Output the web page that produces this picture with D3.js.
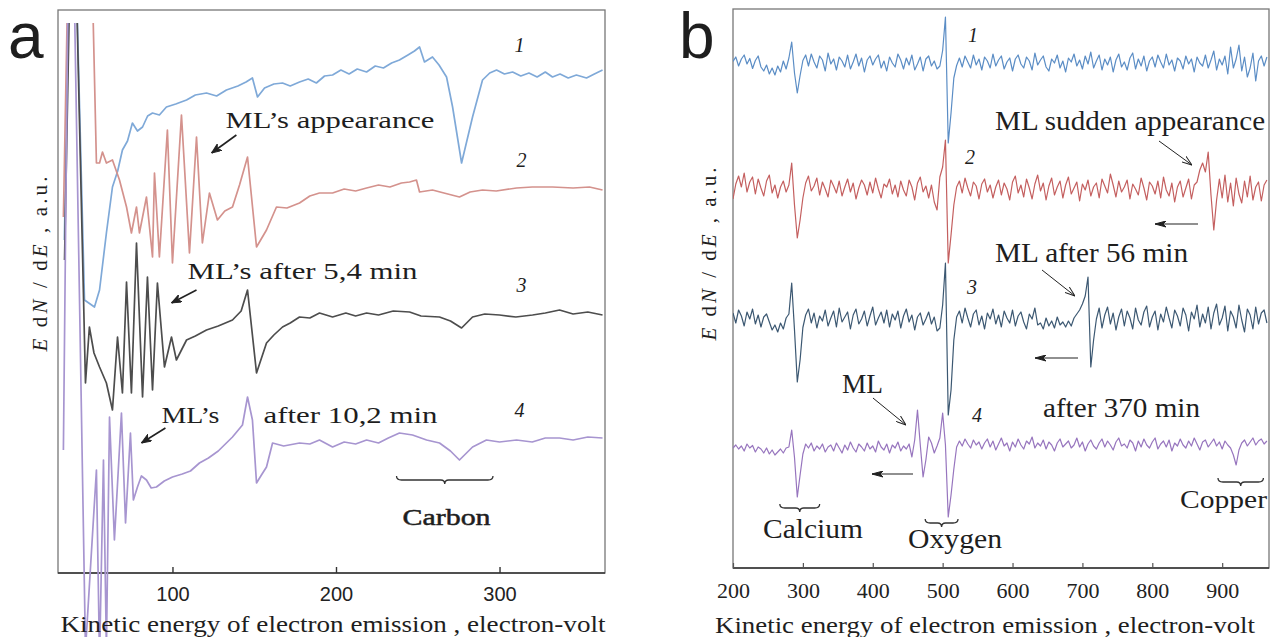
<!DOCTYPE html>
<html lang="en">
<head>
<meta charset="UTF-8" />
<title>Auger spectra with ML</title>
<script src="https://d3js.org/d3.v7.min.js"></script>
<style>
  body { margin: 0; background: #fff; }
</style>
</head>
<body>
<svg width="1272" height="637"></svg>
<script>
// ---------- panel a : [energy eV, E dN/dE a.u.] ----------
const specA1 = [[33.9,66.6],[37,125],[40.7,125],[46.2,54.6],[52.3,53.2],[55.4,56.6],[59.6,68],[63.3,77.2],[66.5,80.4],[69.4,84.6],
  [72.5,86.4],[75.5,90],[78.6,88.4],[81.7,89.2],[84.8,91.4],[87.8,92],[92,91.6],[96.3,93.2],[102,93.8],[108.6,94.6],
  [114,95.6],[120.8,96],[127,95.4],[133,96.6],[140,97.4],[145,98.2],[148.9,99],[152,95.2],[156.3,97],[162,97.8],
  [167.3,98],[172,97.4],[177.7,98.2],[183,98.8],[188,98],[193,99.4],[197.9,99.6],[203,100.6],[208,99.8],[213,100.8],
  [218.7,100.2],[224,101.4],[229,101],[234,102],[238.8,102.6],[244,103.6],[248,104.4],[251.1,105.2],[254.1,102.2],[259,103.2],
  [263,101.6],[267.6,99.2],[271.3,93.2],[276.8,82],[283.5,91.2],[289.6,98.6],[294,100],[298.2,100.6],[303,99.8],[308,100.2],
  [313,99.4],[318,100],[323,99.2],[328,100.2],[332.4,99.2],[337,99.8],[342,99],[347,99.6],[353.2,99],[358,99.8],[363,100.6]];
const specA2 = [[33.3,71.2],[36.4,125],[40.1,125],[50.5,125],[53.5,82],[55.4,82],[57.2,84.2],[59.6,82],[63.3,82.6],[67.6,78.6],
  [71.9,73.2],[74.9,68],[78,73.2],[79.8,68],[84.1,75.2],[87.8,63.2],[89,80],[92,63.2],[96.9,88.6],[100,62],
  [105.5,91.6],[110.4,64],[114.7,87.2],[118.3,66],[122.6,76],[127.5,70.6],[132,72.4],[136.7,73.2],[141,77.6],[145.9,83.2],
  [151.4,65.2],[157.5,68.6],[163.6,73.2],[170,73],[177.7,74],[184,75.4],[189.9,76],[197.9,76],[205,76.8],[212,76.4],
  [218.7,77],[226,77.6],[233,77.2],[240,78],[245,78.2],[249.2,78.6],[251.1,76.2],[259,76.6],[266,76],[275.5,75.2],
  [282,76.2],[289.6,76.6],[298,76.4],[310.4,77],[320,77.2],[332.4,77.2],[345,77],[355,77.2],[363,76.6]];
const specA3 = [[34,62.6],[37.6,125],[40.7,125],[46.8,38],[49.2,49.2],[52,44],[55.4,41.2],[59.6,38],[63.3,32.6],[66.4,47.2],
  [69.4,36],[71.9,58.2],[74.9,36],[78,66],[81.7,35.2],[84.7,59.2],[87.8,36.6],[90.8,58],[95.1,41.2],[99.4,47.2],
  [102.4,42.6],[108.6,46.6],[114,47.4],[120.8,48.6],[128,49.4],[136.7,50.6],[142,52.4],[145.9,56.6],[151.4,40],[157.5,46],
  [162,47.6],[167.3,49.2],[172,50],[177.7,51.2],[184,51],[189.9,52],[197.9,51.2],[206,52],[212,51.4],[218.7,52],
  [226,51.6],[235,52.4],[245,52.2],[252,51.4],[263.3,51.2],[270,50.4],[276.8,49],[283.5,51.2],[291,51.8],[300,51.6],
  [310,51.2],[320.2,51.6],[328,52],[336.7,52.6],[345,51.8],[354,52.2],[363,51.6]];
const specA4 = [[33.3,24.6],[36.4,125],[39.5,125],[46.8,-15.4],[53.5,20.6],[55.4,-17.4],[57.8,22.6],[59.6,-15.4],[61.5,31.2],[64.5,6.6],
  [68.8,32],[71.3,10],[74.3,28],[76.1,14.6],[78.6,17.2],[81,19.4],[84.1,18.6],[87,17],[90.2,17.2],[95,18.4],
  [100,19.2],[106,19.8],[111,20.4],[116.5,22],[122,23],[128,24.4],[136.7,27.2],[142.8,29.6],[145.9,35.2],[148.9,30.6],
  [151.4,18],[154.4,19.6],[157.5,21.2],[161.2,26],[168,25.4],[177.7,26],[184,25.8],[189.9,26.6],[197.9,25.2],[205,26.2],
  [212,25.8],[218.7,26.6],[226,26],[232,27],[238.8,28],[246.8,27.6],[255.4,26.6],[263.3,26],[270,24.4],[275.5,22.6],
  [283.5,25.2],[292,26.6],[300,26.2],[310.4,26.6],[320,26.2],[328,27],[336.7,27],[345,26.6],[354,27.2],[363,27]];
const ticksA = [100, 200, 300];

// ---------- panel b : energies (eV) and signal around each trace's offset ----------
const energyB = [200,204,208,212,216,220,224,228,232,236, 240,244,248,252,256,260,264,268,272,276,
  280,284,288,292,296,300,304,308,312,316, 320,324,328,332,336,340,344,348,352,356,
  360,364,368,372,376,380,384,388,392,396, 400,404,408,412,416,420,424,428,432,436,
  440,444,448,452,456,460,464,468,472,476, 480,484,488,492,496,500,504,508,512,516,
  520,524,528,532,536,540,544,548,552,556, 560,564,568,572,576,580,584,588,592,596,
  600,604,608,612,616,620,624,628,632,636, 640,644,648,652,656,660,664,668,672,676,
  680,684,688,692,696,700,704,708,712,716, 720,724,728,732,736,740,744,748,752,756,
  760,764,768,772,776,780,784,788,792,796, 800,804,808,812,816,820,824,828,832,836,
  840,844,848,852,856,860,864,868,872,876, 880,884,888,892,896,900,904,908,912,916,
  920,924,928,932,936,940,944,948,952,956, 960,964];
const specB1 = [0.3,1.2,-0.6,0.8,1.6,-0.2,0.9,-1.1,0.5,1.4, -0.8,-1.6,-0.4,-2.2,-1.0,-2.4,-0.6,-1.8,0.4,-1.2,
  1.0,4.2,-2.0,-6.0,-2.5,0.5,1.6,-0.6,1.8,0.2, -1.0,1.4,0.6,-1.6,2.0,-0.2,0.8,-1.4,1.2,0.4,
  -0.8,1.6,-1.2,0.2,1.8,-0.6,1.0,-1.8,0.6,1.4, -0.4,0.8,1.6,-1.0,0.4,-1.6,1.2,0.0,-0.8,1.8,
  0.6,-1.2,1.0,-0.4,1.6,-1.4,-0.2,1.2,-1.6,0.8, 1.4,-0.6,0.4,-1.2,-0.6,2.5,9.2,-16.0,-10.0,-3.0,
  -0.5,1.0,-0.8,1.4,0.2,-1.0,1.6,-0.4,0.8,-1.4, 1.2,0.4,-1.0,1.8,-0.6,0.6,1.4,-1.2,0.2,1.0,
  -1.6,0.8,1.6,-0.2,-1.0,1.2,0.4,-1.4,2.0,-0.4, 0.6,1.4,-0.8,-1.6,0.8,0.0,1.6,-1.0,0.4,-1.8,
  1.0,0.2,1.8,-0.6,0.6,-1.2,1.4,-0.2,2.2,-1.0, 0.4,1.6,-1.4,0.8,-0.4,1.2,-1.8,0.6,1.8,-0.8,
  0.2,-1.4,1.0,2.0,-1.2,0.8,-0.6,1.4,-1.6,0.4, 1.2,-0.8,1.6,0.2,-1.0,1.8,-0.4,0.6,-1.6,1.0,
  0.4,-1.2,1.4,-0.2,0.8,-1.8,1.2,0.0,-0.6,1.6, -1.0,0.6,2.4,-1.4,0.8,-0.4,1.4,-2.2,3.2,-1.0,
  0.8,3.6,-1.6,1.2,-2.8,-1.0,2.0,-3.6,0.4,1.4, -0.6,1.2];
const specB2 = [-1.8,1.2,2.8,0.6,3.4,-0.4,1.6,2.6,-0.8,2.2, 0.4,-1.2,1.8,3.0,-0.6,1.0,-1.6,0.6,1.8,-0.4,
  1.0,5.4,-3.0,-9.6,-6.0,-1.6,1.4,2.8,-0.2,0.8, 2.4,-1.0,1.6,0.2,-1.4,2.0,0.8,-0.6,1.8,-1.2,
  0.6,2.2,-0.4,1.4,-1.8,0.4,2.0,1.0,-1.0,1.6, -0.6,2.4,0.2,-1.6,1.2,0.6,2.2,-0.8,1.0,-1.4,
  1.8,0.0,-1.2,2.0,0.6,-2.0,1.4,2.6,-0.4,0.8, -1.6,1.0,-2.4,-4.0,2.6,4.6,10.0,-14.6,-9.0,-3.0,
  0.6,1.8,-0.6,2.4,0.4,-1.2,1.6,0.8,-1.8,1.2, 2.2,-0.4,1.0,-1.6,0.6,2.0,-1.0,1.4,0.2,-2.0,
  1.6,2.8,-0.6,1.0,-1.4,2.2,0.4,-1.8,1.2,3.0, -0.2,1.4,-2.0,0.8,2.4,-1.0,0.6,1.8,-1.6,1.0,
  2.6,-0.8,0.4,1.6,-2.2,1.2,0.0,2.0,-1.2,0.6, 1.4,-1.6,2.2,0.8,-0.6,3.2,1.0,-1.4,1.8,-0.4,
  0.6,2.0,-1.8,1.2,0.2,-1.0,2.4,0.4,-2.0,1.6, 0.8,-0.8,1.8,-1.6,2.6,0.0,-1.2,1.4,-2.4,0.6,
  1.8,-1.4,0.4,2.2,-1.8,1.0,1.6,4.0,5.4,3.6, 7.6,-1.0,-8.0,-2.0,2.2,-1.6,3.0,-2.4,1.4,-3.2,
  2.4,-0.8,-2.6,1.8,-1.4,2.8,-2.0,0.6,1.6,-2.2, 1.0,2.0];
const specB3 = [1.4,-0.6,2.0,0.8,-1.2,1.6,0.2,2.2,-0.8,1.0, -1.4,0.6,1.2,-0.4,-2.0,-1.0,-2.4,-0.6,-1.8,0.4,
  1.2,7.4,-2.0,-12.4,-8.0,-1.5,1.0,2.2,-0.6,1.4, -1.6,0.8,-0.2,2.0,-1.2,0.4,1.8,-1.4,2.4,-0.4,
  0.6,1.6,-1.8,1.0,2.2,-0.8,0.2,1.8,-1.2,0.8, 2.6,-1.0,0.4,1.6,-0.6,2.0,-1.4,1.2,0.0,1.8,
  -1.6,0.8,2.2,-0.4,1.0,-2.0,0.6,1.4,-1.0,0.2, 1.6,-0.8,0.6,-2.2,-1.6,3.0,11.4,-19.0,-14.0,-4.0,
  0.6,1.8,-0.6,2.4,0.4,-1.4,1.2,2.0,-1.0,0.8, -1.8,1.4,0.2,2.2,-0.8,1.0,-1.4,1.8,0.4,-0.6,
  2.0,-1.2,0.8,1.6,-0.4,-1.8,1.2,0.2,2.4,-1.0, -0.6,-1.8,0.4,-1.2,-0.2,-1.6,0.6,-1.0,-0.4,-1.4,
  -0.2,-1.2,0.4,1.2,2.0,3.2,4.8,8.6,-9.4,-4.0, 0.2,2.4,-1.6,1.0,2.6,-0.8,1.4,-2.0,0.6,2.2,
  -1.2,1.8,0.4,-1.8,2.4,0.0,-1.0,1.6,2.8,-1.4, 0.6,1.8,-2.0,1.2,-0.4,2.6,0.4,-1.6,2.0,0.8,
  -1.2,2.4,1.0,-2.2,1.6,0.2,3.0,-1.4,1.2,-0.6, 2.6,-1.8,1.4,3.2,-1.0,0.4,2.8,-2.2,1.8,0.6,
  -1.6,3.0,0.0,-2.4,2.2,1.0,-1.8,2.6,-0.8,1.4, 2.0,-0.6];
const specB4 = [0.4,1.0,0.2,0.8,-0.2,1.2,0.4,0.9,-0.4,0.6, 0.2,-0.6,0.4,-0.8,0.0,-1.0,-0.4,0.2,-0.6,0.4,
  0.6,4.0,-1.5,-9.4,-5.0,-0.8,1.2,0.4,1.4,-0.2, 0.8,0.2,1.2,-0.4,0.6,1.0,-0.2,1.4,0.4,-0.6,
  1.0,0.0,1.6,0.4,-0.4,1.2,0.6,-0.2,1.4,0.2, 0.8,-0.4,1.8,0.6,0.0,1.2,-0.6,1.0,0.4,1.6,
  -0.2,0.8,0.2,1.2,-1.4,2.0,8.0,1.0,-5.4,-2.0, 2.6,1.4,-0.6,0.8,2.4,7.4,1.0,-13.4,-9.0,-3.8,
  0.6,1.8,0.8,2.2,1.2,0.4,2.0,1.0,1.6,0.2, 1.4,2.2,0.6,1.8,0.0,1.2,2.4,0.8,1.4,-0.2,
  1.6,0.6,2.2,1.0,0.2,1.8,1.2,2.6,0.4,1.4, 0.8,2.0,0.2,1.6,1.0,-0.2,1.4,2.2,0.6,1.2,
  1.8,0.4,1.0,2.4,0.6,1.6,-0.2,1.2,2.0,0.8, 0.2,1.4,2.2,0.6,1.8,1.0,0.0,1.6,2.4,0.8,
  1.2,0.4,2.0,1.4,-0.2,1.8,0.6,2.2,1.0,0.4, 1.6,2.4,0.2,1.2,1.8,0.6,2.0,-0.2,1.4,0.8,
  2.2,1.0,0.4,1.8,0.8,2.4,1.2,0.0,1.6,2.0, 0.6,1.4,2.2,0.8,1.6,0.2,1.8,1.0,0.4,-1.0,
  -3.0,0.0,1.4,2.0,0.8,1.6,2.4,1.0,1.8,2.2, 1.2,1.8];
const offsetsB = [101, 75.6, 49.6, 23.6];
const ticksB = [200, 300, 400, 500, 600, 700, 800, 900];

const serif = '"Liberation Serif", "Times New Roman", "DejaVu Serif", serif';
const sans = '"Liberation Sans", Arial, "DejaVu Sans", sans-serif';
const svg = d3.select("svg");

const xA = d3.scaleLinear().domain([30, 364.5]).range([58, 605]);
const yA = d3.scaleLinear().domain([0, 112.6]).range([573, 10]);
const xB = d3.scaleLinear().domain([200, 967]).range([733, 1269]);
const yB = d3.scaleLinear().domain([0, 111.8]).range([568, 9]);

const defs = svg.append("defs");
defs.append("clipPath").attr("id", "clipA").append("rect")
  .attr("x", 58).attr("y", 23).attr("width", 547).attr("height", 614);
defs.append("clipPath").attr("id", "clipB").append("rect")
  .attr("x", 733).attr("y", 9).attr("width", 536).attr("height", 559);

function marker(id, path, w, h, fill) {
  defs.append("marker").attr("id", id).attr("viewBox", `0 0 ${w} ${h}`)
    .attr("refX", w).attr("refY", h / 2).attr("markerWidth", w).attr("markerHeight", h)
    .attr("markerUnits", "userSpaceOnUse").attr("orient", "auto")
    .append("path").attr("d", path)
    .attr("fill", fill ? "#222" : "none").attr("stroke", "#222").attr("stroke-width", 1);
}
marker("arrA", "M0,0 L10,4 L0,8 L3,4 Z", 10, 8, true);
marker("arrB", "M0,0.5 L10,4 L0,7.5", 10, 8, false);
marker("arrBf", "M0,0.5 L11,3.5 L0,6.5 L3,3.5 Z", 11, 7, true);

// ---------------- frames ----------------
function frame(x0, y0, x1, y1) {
  svg.append("rect").attr("x", x0).attr("y", y0).attr("width", x1 - x0).attr("height", y1 - y0)
    .attr("fill", "none").attr("stroke", "#777").attr("stroke-width", 1.3);
  svg.append("line").attr("x1", x0).attr("x2", x1).attr("y1", y1).attr("y2", y1)
    .attr("stroke", "#333").attr("stroke-width", 1.6);
}
frame(58, 10, 605, 573);
frame(733, 9, 1269, 568);

// ---------------- axes ----------------
const axA = svg.append("g").attr("transform", "translate(0,573)")
  .call(d3.axisBottom(xA).tickValues(ticksA).tickSizeInner(-6).tickSizeOuter(0).tickPadding(14));
axA.select(".domain").remove();
axA.selectAll("line").attr("stroke", "#333").attr("stroke-width", 1.4);
axA.selectAll("text").style("font-family", sans).style("font-size", "20px").attr("fill", "#222");

const axB = svg.append("g").attr("transform", "translate(0,568)")
  .call(d3.axisBottom(xB).tickValues(ticksB).tickSizeInner(-5).tickSizeOuter(0).tickPadding(14));
axB.select(".domain").remove();
axB.selectAll("line").attr("stroke", "#555").attr("stroke-width", 1.2);
axB.selectAll("text").style("font-family", serif).style("font-size", "22px").attr("fill", "#222");

// ---------------- spectra ----------------
const lineA = d3.line().x(d => xA(d[0])).y(d => yA(d[1]));
const gA = svg.append("g").attr("clip-path", "url(#clipA)").attr("fill", "none")
  .attr("stroke-linejoin", "round");
[[specA1, "#7fa9d8"], [specA2, "#d4928d"], [specA3, "#4d4d4d"], [specA4, "#a795d0"]]
  .forEach(([s, c]) => gA.append("path").datum(s).attr("d", lineA)
    .attr("stroke", c).attr("stroke-width", 1.7));

const gB = svg.append("g").attr("clip-path", "url(#clipB)").attr("fill", "none")
  .attr("stroke-linejoin", "round");
[[specB1, "#5b8dc5"], [specB2, "#c45f5f"], [specB3, "#3c5872"], [specB4, "#9775be"]]
  .forEach(([s, c], k) => {
    const lineB = d3.line().x((d, i) => xB(energyB[i])).y(d => yB(d + offsetsB[k]));
    gB.append("path").datum(s).attr("d", lineB).attr("stroke", c).attr("stroke-width", 1.2);
  });

// ---------------- labels ----------------
function txt(x, y, s, size, opts = {}) {
  const t = svg.append("text").attr("x", x).attr("y", y).text(s)
    .style("font-family", opts.family || serif).style("font-size", size + "px").attr("fill", "#1e1e1e");
  if (opts.len) t.attr("textLength", opts.len).attr("lengthAdjust", "spacingAndGlyphs");
  if (opts.anchor) t.attr("text-anchor", opts.anchor);
  if (opts.italic) t.style("font-style", "italic");
  if (opts.heavy) t.attr("stroke", "#1e1e1e").attr("stroke-width", 0.5);
  return t;
}
function arrow(x1, y1, x2, y2, m, w) {
  svg.append("line").attr("x1", x1).attr("y1", y1).attr("x2", x2).attr("y2", y2)
    .attr("stroke", "#222").attr("stroke-width", w).attr("marker-end", `url(#${m})`);
}
function brace(x1, x2, y) {
  const xc = (x1 + x2) / 2;
  svg.append("path").attr("fill", "none").attr("stroke", "#333").attr("stroke-width", 1.3)
    .attr("d", `M${x1},${y - 4} Q${x1},${y} ${x1 + 5},${y} L${xc - 4},${y} Q${xc},${y} ${xc},${y + 4}` +
               ` Q${xc},${y} ${xc + 4},${y} L${x2 - 5},${y} Q${x2},${y} ${x2},${y - 4}`);
}
function yTitle(x, y, len) {
  const t = svg.append("text").attr("transform", `translate(${x},${y}) rotate(-90)`)
    .attr("text-anchor", "middle").style("font-family", serif).style("font-size", "21px")
    .attr("fill", "#1e1e1e").attr("textLength", len).attr("lengthAdjust", "spacing");
  t.append("tspan").style("font-style", "italic").text("E");
  t.append("tspan").text(" d");
  t.append("tspan").style("font-style", "italic").text("N");
  t.append("tspan").text(" / d");
  t.append("tspan").style("font-style", "italic").text("E");
  t.append("tspan").text(" ,  a.u.");
}

// panel a
txt(8, 58, "a", 64, { family: sans });
yTitle(47, 264, 175);
txt(333, 632, "Kinetic  energy  of  electron  emission ,  electron-volt", 24, { anchor: "middle", len: 545 });
txt(xA(312.2), yA(104.2), "1", 20, { italic: true, anchor: "middle" });
txt(xA(313.5), yA(81.2), "2", 20, { italic: true, anchor: "middle" });
txt(xA(313.5), yA(56.2), "3", 20, { italic: true, anchor: "middle" });
txt(xA(312.2), yA(31.2), "4", 20, { italic: true, anchor: "middle" });
txt(xA(132.4), yA(89), "ML\u2019s appearance", 24, { len: 209 });
arrow(xA(139.1), yA(87.6), xA(123.9), yA(84), "arrA", 1.6);
txt(xA(109.2), yA(58.8), "ML\u2019s after 5,4 min", 24, { len: 230 });
arrow(xA(114.7), yA(56.6), xA(99.4), yA(54), "arrA", 1.6);
txt(xA(93.3), yA(30), "ML\u2019s", 24, { len: 58 });
txt(xA(155.7), yA(30), "after 10,2 min", 24, { len: 174 });
arrow(xA(95.7), yA(29), xA(81), yA(26), "arrA", 1.6);
brace(xA(237), xA(296), yA(18.6));
txt(xA(267.6), yA(9.6), "Carbon", 24, { anchor: "middle", heavy: true, len: 88 });

// panel b
txt(679, 58, "b", 64, { family: sans });
yTitle(716, 254, 173);
txt(985, 633, "Kinetic  energy  of  electron  emission ,  electron-volt", 24, { anchor: "middle", len: 540 });
txt(xB(543.4), yB(105.2), "1", 20, { italic: true, anchor: "middle" });
txt(xB(539.2), yB(80.8), "2", 20, { italic: true, anchor: "middle" });
txt(xB(542), yB(54.8), "3", 20, { italic: true, anchor: "middle" });
txt(xB(549.2), yB(29.2), "4", 20, { italic: true, anchor: "middle" });
txt(xB(575), yB(87.6), "ML sudden appearance", 27, { len: 270 });
arrow(xB(809.6), yB(85.4), xB(856.8), yB(80.6), "arrB", 1);
arrow(xB(865.4), yB(68.8), xB(803.9), yB(68.8), "arrBf", 1.2);
txt(xB(575), yB(61.2), "ML after 56 min", 27, { len: 193 });
arrow(xB(642.2), yB(59.6), xB(689.4), yB(54.4), "arrB", 1);
arrow(xB(693.7), yB(42), xB(632.2), yB(42), "arrBf", 1.2);
txt(xB(643.6), yB(30.2), "after 370 min", 27, { len: 157 });
txt(xB(356), yB(35), "ML", 27, { len: 41 });
arrow(xB(400.3), yB(34), xB(447.6), yB(28.6), "arrB", 1);
arrow(xB(457.6), yB(18.8), xB(398.9), yB(18.8), "arrBf", 1.2);
brace(xB(267), xB(324), yB(12));
txt(xB(314.5), yB(6), "Calcium", 27, { anchor: "middle", len: 100 });
brace(xB(475), xB(522), yB(9));
txt(xB(517.7), yB(4), "Oxygen", 27, { anchor: "middle", len: 94 });
brace(xB(894), xB(959), yB(17.2));
txt(xB(902), yB(12), "Copper", 25, { anchor: "middle", len: 87 });
</script>
</body>
</html>
